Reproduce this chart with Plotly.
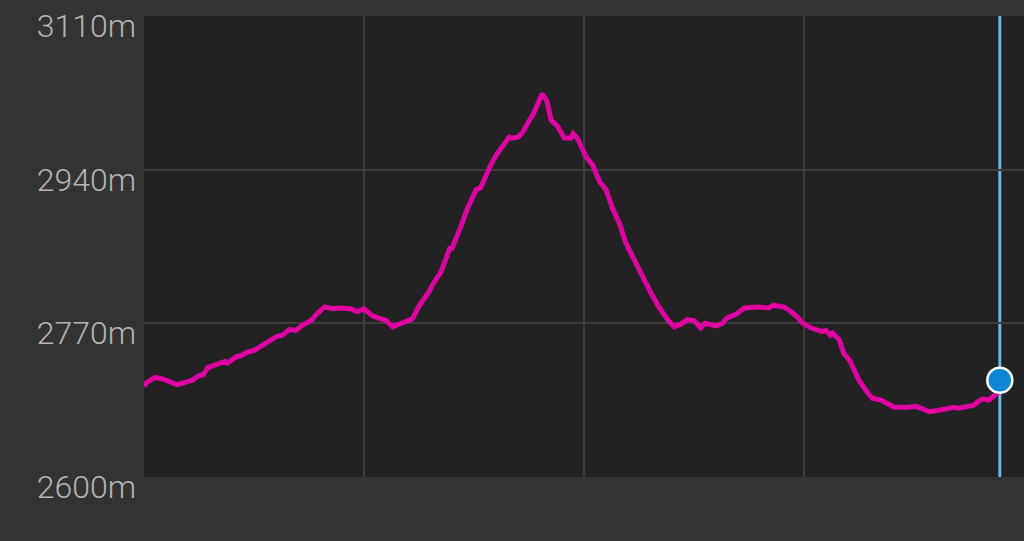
import plotly.graph_objects as go

# distance along track (grid units) and elevation (m)
distance = [0.00, 0.01, 0.05, 0.09, 0.12, 0.15, 0.18, 0.22, 0.25, 0.27,
            0.29, 0.33, 0.37, 0.38, 0.42, 0.44, 0.47, 0.50, 0.56, 0.60,
            0.63, 0.66, 0.69, 0.72, 0.76, 0.78, 0.82, 0.86, 0.89, 0.94,
            0.97, 1.00, 1.04, 1.07, 1.10, 1.13, 1.16, 1.22, 1.25, 1.29,
            1.32, 1.35, 1.39, 1.40, 1.44, 1.47, 1.51, 1.53, 1.57, 1.60,
            1.66, 1.67, 1.70, 1.72, 1.75, 1.77, 1.81, 1.83, 1.85, 1.88,
            1.91, 1.94, 1.95, 1.97, 2.01, 2.04, 2.07, 2.10, 2.13, 2.16,
            2.19, 2.24, 2.27, 2.31, 2.34, 2.38, 2.41, 2.44, 2.47, 2.50,
            2.53, 2.55, 2.60, 2.63, 2.65, 2.69, 2.73, 2.79, 2.84, 2.86,
            2.91, 2.94, 2.97, 2.99, 3.03, 3.08, 3.10, 3.12, 3.13, 3.16,
            3.18, 3.21, 3.25, 3.28, 3.31, 3.35, 3.41, 3.47, 3.51, 3.53,
            3.57, 3.62, 3.68, 3.70, 3.74, 3.77, 3.79, 3.81, 3.84, 3.88,
            3.89]
elevation = [2700, 2704, 2710, 2708, 2705, 2702, 2704, 2707, 2712, 2713,
             2721, 2724, 2728, 2726, 2733, 2734, 2738, 2740, 2750, 2755,
             2757, 2763, 2762, 2768, 2773, 2779, 2788, 2786, 2787, 2786,
             2783, 2786, 2778, 2776, 2773, 2766, 2769, 2775, 2789, 2803,
             2816, 2827, 2853, 2853, 2877, 2897, 2918, 2920, 2942, 2956,
             2976, 2975, 2976, 2981, 2994, 3002, 3024, 3017, 2995, 2988,
             2975, 2975, 2980, 2975, 2954, 2945, 2927, 2918, 2897, 2881,
             2859, 2833, 2820, 2801, 2788, 2774, 2766, 2769, 2774, 2773,
             2765, 2770, 2767, 2770, 2776, 2780, 2787, 2788, 2787, 2790,
             2788, 2783, 2777, 2771, 2765, 2761, 2762, 2757, 2759, 2752,
             2737, 2728, 2707, 2696, 2687, 2685, 2677, 2677, 2678, 2676,
             2672, 2674, 2677, 2676, 2678, 2679, 2683, 2686, 2685, 2693,
             2707]

cursor_distance = [3.89]
cursor_elevation = [2707]

y_ticks = [2600, 2770, 2940, 3110]
y_tick_labels = ["2600m", "2770m", "2940m", "3110m"]
x_grid = [1, 2, 3]

fig = go.Figure()
fig.add_trace(go.Scatter(
    x=distance, y=elevation, mode="lines",
    line=dict(color="#e0039f", width=5, shape="linear"),
    hoverinfo="skip", showlegend=False,
))
fig.add_vline(x=cursor_distance[0], line=dict(color="#6cb4df", width=3), layer="below")
fig.add_trace(go.Scatter(
    x=cursor_distance, y=cursor_elevation, mode="markers",
    marker=dict(size=25, color="#0a86d4", line=dict(color="#ffffff", width=2.5)),
    hoverinfo="skip", showlegend=False, cliponaxis=False,
))

fig.update_layout(
    width=1024, height=541,
    margin=dict(l=144, r=0, t=16, b=64),
    paper_bgcolor="#333333",
    plot_bgcolor="#222222",
    hovermode=False,
    font=dict(family="Roboto, Liberation Sans, sans-serif"),
    xaxis=dict(range=[0, 4], tickvals=x_grid, showticklabels=False,
               showgrid=True, gridcolor="#3d3d3d", gridwidth=2,
               zeroline=False, showline=False, fixedrange=True),
    yaxis=dict(range=[2599.8, 3110.2], tickvals=y_ticks, ticktext=y_tick_labels,
               showgrid=True, gridcolor="#3d3d3d", gridwidth=2,
               zeroline=False, showline=False, fixedrange=True,
               tickfont=dict(size=32, color="#b4b4b4", weight=300),
               ticklabelshift=10, ticklabelstandoff=7),
)

fig.write_html(
    "out.html",
    config={"displayModeBar": False, "staticPlot": True},
    post_script="document.body.style.margin='0';document.body.style.background='#333333';document.body.style.overflow='hidden';",
)
